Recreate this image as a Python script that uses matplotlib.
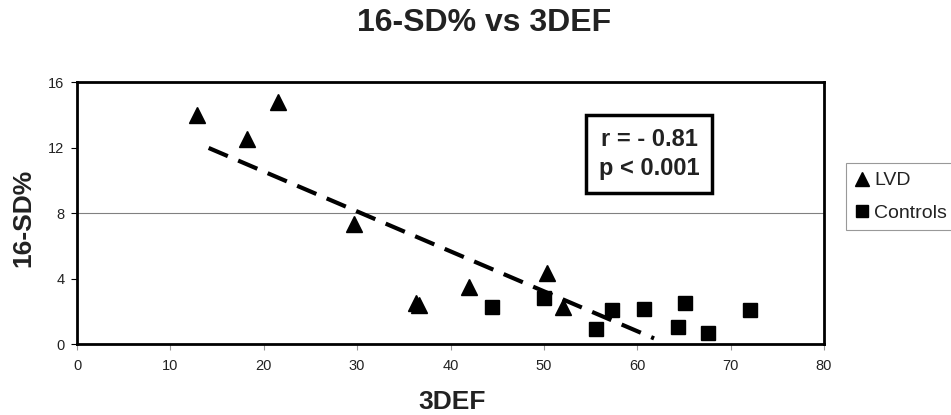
import matplotlib
matplotlib.use("Agg")
import matplotlib.pyplot as plt
import numpy as np

lvd_x = [12.8, 18.2, 21.5, 29.7, 36.3, 36.6, 42.0, 50.3, 52.0]
lvd_y = [14.0, 12.5, 14.8, 7.3, 2.5, 2.4, 3.5, 4.35, 2.25]
ctrl_x = [44.4, 50.0, 55.6, 57.3, 60.7, 64.4, 65.1, 67.6, 72.1]
ctrl_y = [2.25, 2.8, 0.9, 2.1, 2.15, 1.05, 2.5, 0.7, 2.05]
trend_x = [14.1, 61.8]
trend_slope = -0.2438
trend_intercept = 15.41
x_ticks = [0, 10, 20, 30, 40, 50, 60, 70, 80]
y_ticks = [0, 4, 8, 12, 16]

plt.rcParams['font.family'] = ['Liberation Sans', 'DejaVu Sans']

fig = plt.figure(figsize=(9.51, 4.15), dpi=100)
ax = fig.add_axes([77/951, 1-344/415, (824-77)/951, (344-82)/415])

ax.axhline(8, color='#808080', lw=0.8, zorder=1)

tx = np.array(trend_x)
ax.plot(tx, trend_intercept + trend_slope*tx, color='black', lw=3,
        linestyle=(0, (5, 2.7)), zorder=2)

ax.plot(lvd_x, lvd_y, linestyle='none', marker='^', markersize=11,
        color='black', label='LVD', zorder=3)
ax.plot(ctrl_x, ctrl_y, linestyle='none', marker='s', markersize=10,
        color='black', label='Controls', zorder=3)

ax.set_xlim(0, 80)
ax.set_ylim(0, 16)
ax.set_xticks(x_ticks)
ax.set_yticks(y_ticks)
ax.tick_params(axis='both', direction='out', length=4, width=0.8,
               labelsize=10.5, colors='black', labelcolor='#222222')
ax.tick_params(axis='x', pad=7, color='#999999')
ax.tick_params(axis='y', pad=5)
for s in ax.spines.values():
    s.set_linewidth(2)
    s.set_color('black')

fig.text(452/951, 1-402/415, '3DEF', fontsize=19, fontweight='bold',
         ha='center', va='center', color='#222222')
fig.text(23/951, 1-218/415, '16-SD%', fontsize=19, fontweight='bold',
         ha='center', va='center', rotation=90, color='#222222')
fig.text(484/951, 1-23/415, '16-SD% vs 3DEF', fontsize=23, fontweight='bold',
         ha='center', va='center', color='#222222')

ax.text((649-77)/747, (344-154)/262, 'r = - 0.81\np < 0.001', transform=ax.transAxes,
        fontsize=17, fontweight='bold', ha='center', va='center',
        linespacing=1.3, color='#222222',
        bbox=dict(boxstyle='square,pad=0.55', facecolor='white',
                  edgecolor='black', linewidth=2.5))

leg = fig.legend(loc='upper left', bbox_to_anchor=(846/951, 1-163/415),
                 fontsize=14, frameon=True, fancybox=False,
                 handlelength=0.7, handletextpad=0.3, borderpad=0.45,
                 labelspacing=0.75, borderaxespad=0, markerscale=0.9)
leg.get_frame().set_edgecolor('#808080')
leg.get_frame().set_linewidth(0.8)
for t in leg.get_texts():
    t.set_color('#222222')

fig.savefig('out.png', dpi=100)
